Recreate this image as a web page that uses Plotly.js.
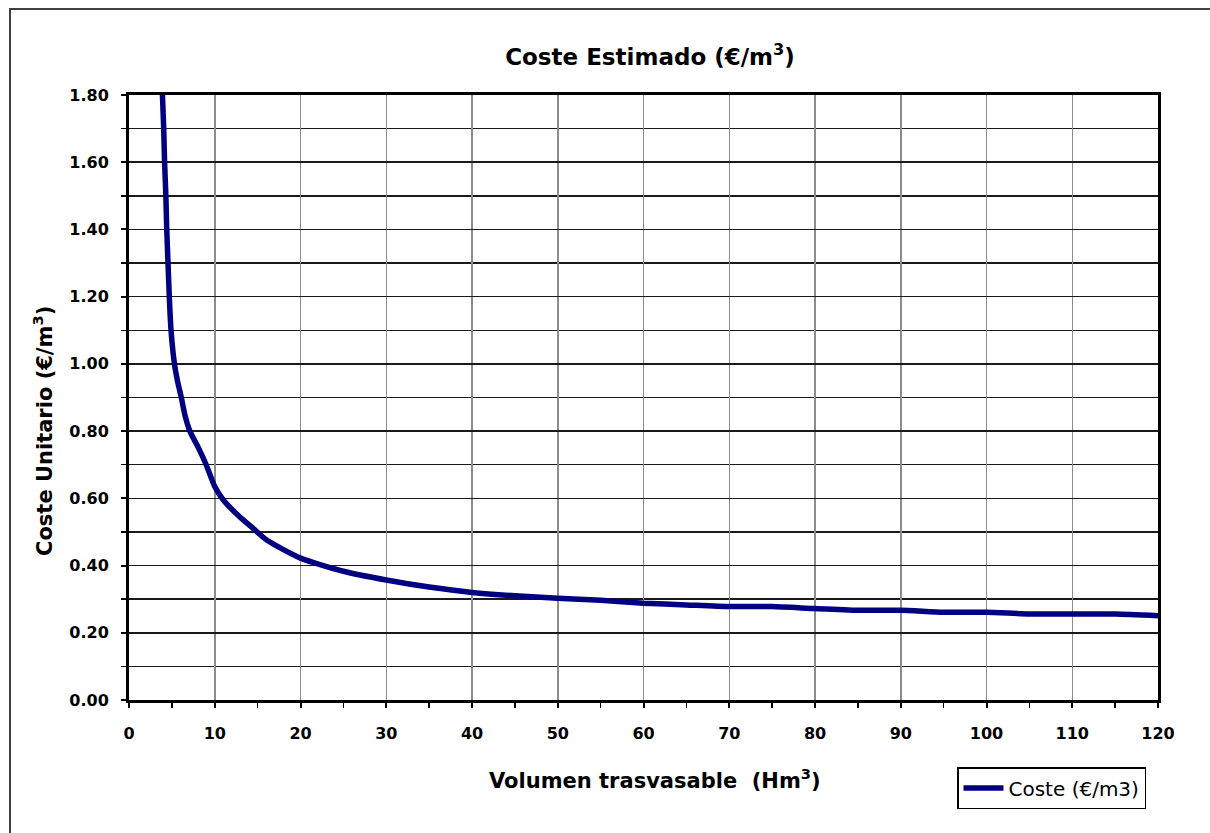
<!DOCTYPE html>
<html>
<head>
<meta charset="utf-8">
<script src="https://cdn.plot.ly/plotly-3.0.1.min.js"></script>
<style>
  html, body { margin: 0; padding: 0; background: #ffffff; }
  #chart { width: 1210px; height: 833px; }
</style>
</head>
<body>
<div id="chart"></div>
<script>
// Volumen trasvasable (Hm3)
const volumen = [3.9, 4.05, 4.15, 4.3, 4.4, 4.55, 4.7, 4.9, 5.3, 5.65, 6.1, 6.5, 7.1, 8.1, 9.0, 10.0, 11.0, 12.9, 14.5, 16.1, 20, 25, 30, 35, 40, 45, 50, 55, 60, 65, 70, 75, 80, 85, 90, 95, 100, 105, 110, 115, 120];
// Coste unitario (€/m3)
const coste = [1.80, 1.70, 1.60, 1.50, 1.40, 1.30, 1.20, 1.10, 1.00, 0.95, 0.90, 0.85, 0.80, 0.75, 0.70, 0.635, 0.595, 0.545, 0.51, 0.475, 0.422, 0.383, 0.357, 0.336, 0.32, 0.31, 0.303, 0.297, 0.288, 0.283, 0.278, 0.278, 0.272, 0.267, 0.267, 0.261, 0.261, 0.256, 0.256, 0.256, 0.251];

const seriesName = 'Coste (€/m3)';
const chartTitle = 'Coste Estimado (€/m<sup>3</sup>)';
const xTitle = 'Volumen trasvasable\u00a0 (Hm<sup>3</sup>)';
const yTitle = 'Coste Unitario (€/m<sup>3</sup>)';

const FONT = 'DejaVu Sans, Liberation Sans, Arial, sans-serif';

const trace = {
  x: volumen,
  y: coste,
  type: 'scatter',
  mode: 'lines',
  name: seriesName,
  line: { color: '#000080', width: 5.5, shape: 'spline', smoothing: 0.6 },
  showlegend: true
};

// plot area in px: left 129, right 1158, top 95, bottom 700
const L = 129, R = 1158, T = 95, B = 700;
const px2x = p => (p - L) / (R - L);
const px2y = p => (B - p) / (B - T);

const layout = {
  width: 1210,
  height: 833,
  margin: { l: L, r: 1210 - R, t: T, b: 833 - B, pad: 0 },
  paper_bgcolor: '#ffffff',
  plot_bgcolor: '#ffffff',
  font: { family: FONT, color: '#000000' },
  title: {
    text: chartTitle,
    font: { family: FONT, size: 23, weight: 'bold', color: '#000000' },
    x: px2x(650), xref: 'paper', xanchor: 'center',
    y: 1 - 57 / 833, yref: 'container', yanchor: 'middle'
  },
  xaxis: {
    range: [0, 120],
    tick0: 0, dtick: 10,
    ticks: 'outside', ticklen: 5, tickwidth: 2, tickcolor: '#000000',
    showline: true, linewidth: 3, linecolor: '#000000', mirror: true,
    showgrid: true, gridcolor: '#8c8c8c', gridwidth: 1.5,
    zeroline: false,
    tickfont: { family: FONT, size: 16, weight: 'bold', color: '#000000' },
    ticklabelstandoff: 12,
    minor: { tick0: 0, dtick: 5, ticks: 'outside', ticklen: 5, tickwidth: 1.5, tickcolor: '#000000', showgrid: false },
    automargin: false
  },
  yaxis: {
    range: [0, 1.8],
    tick0: 0, dtick: 0.2, tickformat: '.2f',
    ticks: 'outside', ticklen: 5, tickwidth: 2, tickcolor: '#000000',
    showline: true, linewidth: 3, linecolor: '#000000', mirror: true,
    showgrid: true, gridcolor: '#1a1a1a', gridwidth: 1.5,
    zeroline: false,
    tickfont: { family: FONT, size: 16, weight: 'bold', color: '#000000' },
    ticklabelstandoff: 9,
    minor: { tick0: 0, dtick: 0.1, ticks: 'outside', ticklen: 5, tickwidth: 1.5, tickcolor: '#000000', showgrid: true, gridcolor: '#1a1a1a', gridwidth: 1.5 },
    automargin: false
  },
  annotations: [
    {
      text: xTitle, xref: 'paper', yref: 'paper',
      x: px2x(655), y: px2y(779), xanchor: 'center', yanchor: 'middle',
      showarrow: false,
      font: { family: FONT, size: 21, weight: 'bold', color: '#000000' }
    },
    {
      text: yTitle, xref: 'paper', yref: 'paper', textangle: -90,
      x: px2x(43), y: px2y(431), xanchor: 'center', yanchor: 'middle',
      showarrow: false,
      font: { family: FONT, size: 21, weight: 'bold', color: '#000000' }
    }
  ],
  legend: {
    x: px2x(957), y: px2y(767), xanchor: 'left', yanchor: 'top',
    bgcolor: '#ffffff', bordercolor: '#000000', borderwidth: 1.5,
    itemwidth: 40,
    font: { family: FONT, size: 20, color: '#000000' }
  },
  shapes: [
    {
      type: 'rect', xref: 'paper', yref: 'paper', layer: 'above',
      x0: px2x(10), x1: px2x(1216), y0: px2y(840), y1: px2y(9),
      line: { color: '#404040', width: 2 }, fillcolor: 'rgba(0,0,0,0)'
    }
  ]
};

Plotly.newPlot('chart', [trace], layout, { staticPlot: true, displayModeBar: false });
</script>
</body>
</html>
